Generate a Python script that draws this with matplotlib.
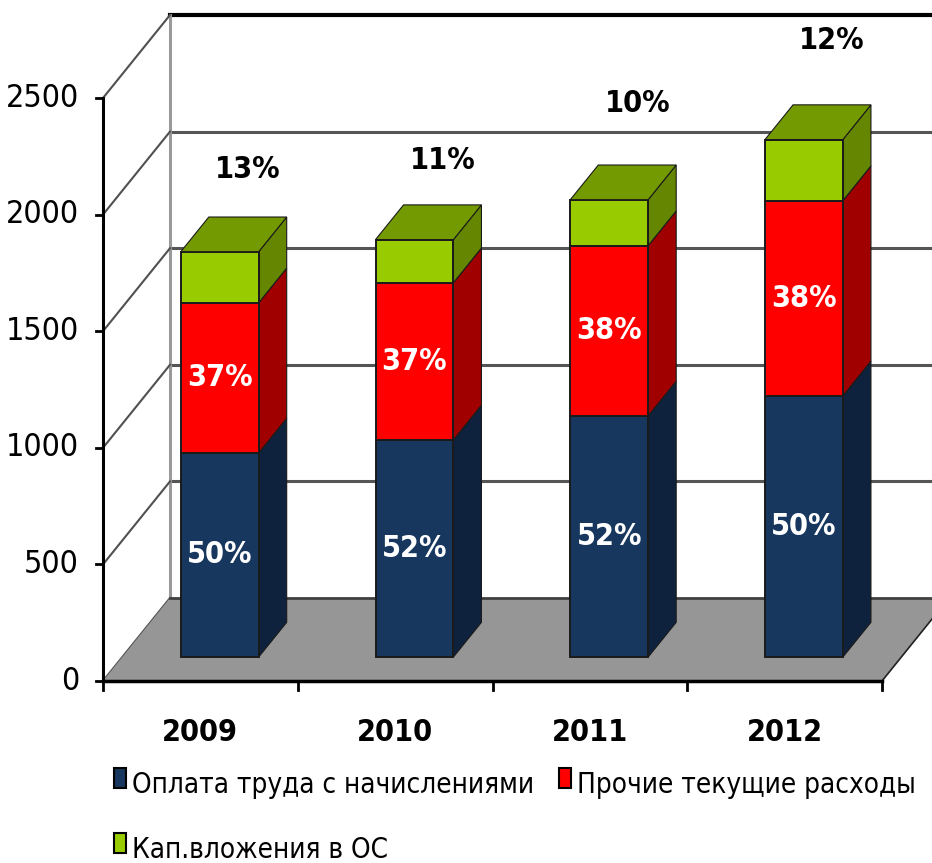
import matplotlib

matplotlib.use("Agg")
import matplotlib.pyplot as plt
from matplotlib.patches import Polygon, Rectangle

# narrow Arial-like look of the original Excel chart
plt.rcParams["font.family"] = ["DejaVu Sans"]
plt.rcParams["font.stretch"] = "condensed"

# values (тыс. руб.)
years = ["2009", "2010", "2011", "2012"]
labour = [875, 931, 1034, 1120]
other = [644, 674, 730, 837]
capex = [219, 185, 197, 262]
labour_pct = ["50%", "52%", "52%", "50%"]
other_pct = ["37%", "37%", "38%", "38%"]
capex_pct = ["13%", "11%", "10%", "12%"]
y_ticks = [0, 500, 1000, 1500, 2000, 2500]

series_names = ["Оплата труда с начислениями", "Прочие текущие расходы", "Кап.вложения в ОС"]
front_col = ["#17375E", "#FF0000", "#99CC00"]
side_col = ["#0F223D", "#A00000", "#648600"]
top_col = "#739A00"
top_label_lift = [48, 44, 62, 64]  # px above the bar top, as placed in the original

W, H = 932, 863
fig = plt.figure(figsize=(W / 100, H / 100), dpi=100)
ax = fig.add_axes([0, 0, 1, 1])
ax.axis("off")

# front plane: category -0.5 at px 103, 3.5 at px 882; value 0 at px 681, 2500 at px 98
ppc = (882 - 103) / 4
ppv = (681 - 98) / 2500
ax.set_xlim(-0.5 - 103 / ppc, -0.5 + (W - 103) / ppc)
ax.set_ylim(-(H - 681) / ppv, 681 / ppv)
xmax = ax.get_xlim()[1] + 1

# pseudo-3D depth: z=0 front plane, z=1 back wall
DX = 67 / ppc
DY = 83 / ppv


def proj(x, y, z):
    return x + z * DX, y + z * DY


# back wall + left wall
x_back = -0.5 + DX
for v in y_ticks[1:-1]:
    ax.plot([x_back, xmax], [v + DY] * 2, color="#555555", lw=2.2, zorder=1)
ax.plot([x_back, xmax], [y_ticks[-1] + DY] * 2, color="black", lw=3, zorder=1)
ax.plot([x_back, x_back], [DY, y_ticks[-1] + DY], color="#9a9a9a", lw=2.2, zorder=1)
for v in y_ticks:
    ax.plot([-0.5, x_back], [v, v + DY], color="#505050", lw=1.5, zorder=1)

# floor
floor = [proj(-0.5, 0, 0), proj(3.5, 0, 0), proj(3.5, 0, 1), proj(xmax, 0, 1), proj(-0.5, 0, 1)]
ax.add_patch(Polygon(floor, closed=True, fc="#969696", ec="none", zorder=2))
ax.plot([x_back, xmax], [DY, DY], color="#404040", lw=2, zorder=2)
ax.plot(*zip(proj(3.5, 0, 0), proj(3.5, 0, 1)), color="#202020", lw=1.2, zorder=2)

# axes
ax.plot([-0.5, -0.5], [0, y_ticks[-1]], color="black", lw=2.2, zorder=3)
ax.plot([-0.5, 3.5], [0, 0], color="black", lw=2.5, zorder=3)
for v in y_ticks:
    ax.plot([-0.5 - 7 / ppc, -0.5], [v, v], color="black", lw=2, zorder=3)
    ax.text(-0.5 - 24 / ppc, v, str(v), ha="right", va="center", fontsize=23, zorder=10)
for b in range(5):
    ax.plot([b - 0.5] * 2, [0, -9 / ppv], color="black", lw=2, zorder=3)
for i, yr in enumerate(years):
    ax.text(i, -(732 - 681) / ppv, yr, ha="center", va="center", fontsize=22,
            fontweight="bold", zorder=10)

# bars
zf, zb, half = 0.289, 0.707, 0.2
for i in range(len(years)):
    vals = [labour[i], other[i], capex[i]]
    base = 0
    x0, x1 = i - half, i + half
    for k, v in enumerate(vals):
        y0, y1 = base, base + v
        side = [proj(x1, y0, zf), proj(x1, y0, zb), proj(x1, y1, zb), proj(x1, y1, zf)]
        ax.add_patch(Polygon(side, closed=True, fc=side_col[k], ec="#1a1a1a", lw=0.8, zorder=4))
        front = [proj(x0, y0, zf), proj(x1, y0, zf), proj(x1, y1, zf), proj(x0, y1, zf)]
        ax.add_patch(Polygon(front, closed=True, fc=front_col[k], ec="#1a1a1a", lw=1.4, zorder=5))
        base = y1
    top = [proj(x0, base, zf), proj(x1, base, zf), proj(x1, base, zb), proj(x0, base, zb)]
    ax.add_patch(Polygon(top, closed=True, fc=top_col, ec="#1a1a1a", lw=0.8, zorder=5))

    tx, ty = proj(i, labour[i] / 2, zf)
    ax.text(tx, ty, labour_pct[i], ha="center", va="center", color="white",
            fontsize=22, fontweight="bold", zorder=10)
    tx, ty = proj(i, labour[i] + other[i] / 2, zf)
    ax.text(tx, ty, other_pct[i], ha="center", va="center", color="white",
            fontsize=22, fontweight="bold", zorder=10)
    tx, ty = proj(i, base, zb)
    ax.text(tx, ty + top_label_lift[i] / ppv, capex_pct[i], ha="center", va="center",
            color="black", fontsize=22, fontweight="bold", zorder=10)

# legend, drawn by hand to keep Excel's layout
legend_pos = [(114, 768), (559, 768), (114, 833)]
for (lx, ly), name, col in zip(legend_pos, series_names, front_col):
    ax.add_patch(Rectangle((lx / W, 1 - (ly + 20) / H), 12 / W, 20 / H, transform=ax.transAxes,
                           fc=col, ec="black", lw=1.5, zorder=10))
    ax.text((lx + 18) / W, 1 - (ly + 25) / H, name, transform=ax.transAxes, ha="left",
            va="baseline", fontsize=20, zorder=10)

fig.savefig("out.png", dpi=100)
